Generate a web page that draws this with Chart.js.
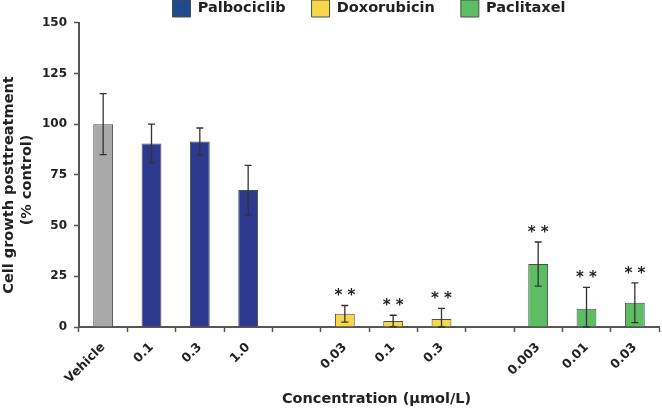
<!DOCTYPE html>
<html>
<head>
<meta charset="utf-8">
<script src="https://cdn.jsdelivr.net/npm/chart.js@4/dist/chart.umd.min.js"></script>
<style>
  html, body { margin: 0; padding: 0; background: #fff; }
  #wrap { width: 662px; height: 411px; position: relative; }
</style>
</head>
<body>
<div id="wrap"><canvas id="c"></canvas></div>
<script>
// ---- data ----
const categories = ['Vehicle', '0.1', '0.3', '1.0', '', '0.03', '0.1', '0.3', '', '0.003', '0.01', '0.03'];
const vehicle     = [100, null, null, null, null, null, null, null, null, null, null, null];
const palbociclib = [null, 90.5, 91.5, 67.5, null, null, null, null, null, null, null, null];
const doxorubicin = [null, null, null, null, null, 6.5, 3, 4, null, null, null, null];
const paclitaxel  = [null, null, null, null, null, null, null, null, null, 31, 9, 12];
const errors      = [15, 9.5, 6.6, 12.2, null, 4.1, 2.8, 5.2, null, 10.9, 10.5, 9.8];
const significance = ['', '', '', '', '', '**', '**', '**', '', '**', '**', '**'];
const yTicks = [0, 25, 50, 75, 100, 125, 150];

const FONT = "'DejaVu Sans', sans-serif";
const AXIS = '#555555';

const errorBarPlugin = {
  id: 'errorBars',
  afterDatasetsDraw(chart) {
    const ctx = chart.ctx;
    const y = chart.scales.y;
    const area = chart.chartArea;
    ctx.save();
    chart.data.datasets.forEach((ds, di) => {
      const meta = chart.getDatasetMeta(di);
      ds.data.forEach((v, i) => {
        if (v === null || errors[i] === null) return;
        const x = meta.data[i].x;
        const hi = y.getPixelForValue(v + errors[i]);
        const lo = Math.min(y.getPixelForValue(Math.max(0, v - errors[i])), area.bottom);
        ctx.strokeStyle = '#333333';
        ctx.lineWidth = 1.3;
        ctx.beginPath();
        ctx.moveTo(x, hi); ctx.lineTo(x, lo);
        ctx.moveTo(x - 3.5, hi); ctx.lineTo(x + 3.5, hi);
        ctx.moveTo(x - 3.5, lo); ctx.lineTo(x + 3.5, lo);
        ctx.stroke();
        if (significance[i]) {
          ctx.fillStyle = '#222222';
          ctx.font = 'bold 15px ' + FONT;
          ctx.textAlign = 'center';
          ctx.textBaseline = 'alphabetic';
          ctx.fillText(significance[i].split('').join(' '), x, hi - 5);
        }
      });
    });
    ctx.restore();
  }
};

const legendColors = { 'Palbociclib': '#1f4b8c' };

new Chart(document.getElementById('c'), {
  type: 'bar',
  data: {
    labels: categories,
    datasets: [
      { label: 'Vehicle', data: vehicle, backgroundColor: '#a9a9a9' },
      { label: 'Palbociclib', data: palbociclib, backgroundColor: '#2b3a8e' },
      { label: 'Doxorubicin', data: doxorubicin, backgroundColor: '#f7d84a' },
      { label: 'Paclitaxel', data: paclitaxel, backgroundColor: '#5cbd62' }
    ]
  },
  options: {
    responsive: true,
    maintainAspectRatio: false,
    animation: false,
    devicePixelRatio: 1,
    layout: { padding: { top: -26, left: 0, right: 3, bottom: 0 } },
    datasets: {
      bar: {
        grouped: false,
        barPercentage: 0.41,
        categoryPercentage: 1,
        borderColor: '#4d4d4d',
        borderWidth: 1,
        skipNull: true
      }
    },
    plugins: {
      tooltip: { enabled: false },
      legend: {
        position: 'top',
        fullSize: false,
        maxHeight: 48.7,
        labels: {
          font: { family: FONT, size: 14.5, weight: 'bold' },
          color: '#222222',
          boxWidth: 18,
          boxHeight: 17,
          padding: 26,
          filter: item => item.datasetIndex > 0,
          generateLabels(chart) {
            const base = Chart.defaults.plugins.legend.labels.generateLabels(chart);
            base.forEach(it => {
              if (legendColors[it.text]) it.fillStyle = legendColors[it.text];
              it.strokeStyle = '#4d4d4d';
              it.lineWidth = 1;
            });
            return base;
          }
        }
      }
    },
    scales: {
      x: {
        type: 'category',
        offset: true,
        afterFit(scale) { scale.height = 84; },
        grid: {
          display: true,
          offset: true,
          drawOnChartArea: false,
          drawTicks: true,
          tickLength: 5,
          tickColor: AXIS,
          tickWidth: 1.5
        },
        border: { display: true, color: AXIS, width: 2 },
        ticks: {
          autoSkip: false,
          maxRotation: 45,
          minRotation: 45,
          padding: 8,
          color: '#222222',
          font: { family: FONT, size: 12.5, weight: 'bold' }
        },
        title: {
          display: true,
          text: '\u00a0\u00a0\u00a0Concentration (µmol/L)',
          color: '#222222',
          font: { family: FONT, size: 14.5, weight: 'bold' },
          padding: { top: 0, bottom: 3 }
        }
      },
      y: {
        min: 0,
        max: 150,
        afterFit(scale) { scale.width = 79; },
        afterBuildTicks(scale) { scale.ticks = yTicks.map(v => ({ value: v })); },
        grid: {
          display: true,
          drawOnChartArea: false,
          drawTicks: true,
          tickLength: 5,
          tickColor: AXIS,
          tickWidth: 1.5
        },
        border: { display: true, color: AXIS, width: 2 },
        ticks: {
          padding: 7,
          color: '#222222',
          font: { family: FONT, size: 12, weight: 'bold' }
        },
        title: {
          display: true,
          text: ['Cell growth posttreatment\u00a0\u00a0\u00a0\u00a0', '(% control)\u00a0\u00a0'],
          color: '#222222',
          font: { family: FONT, size: 14.5, weight: 'bold', lineHeight: 1.25 },
          padding: { top: 0.5, bottom: 0 }
        }
      }
    }
  },
  plugins: [errorBarPlugin]
});
</script>
</body>
</html>
